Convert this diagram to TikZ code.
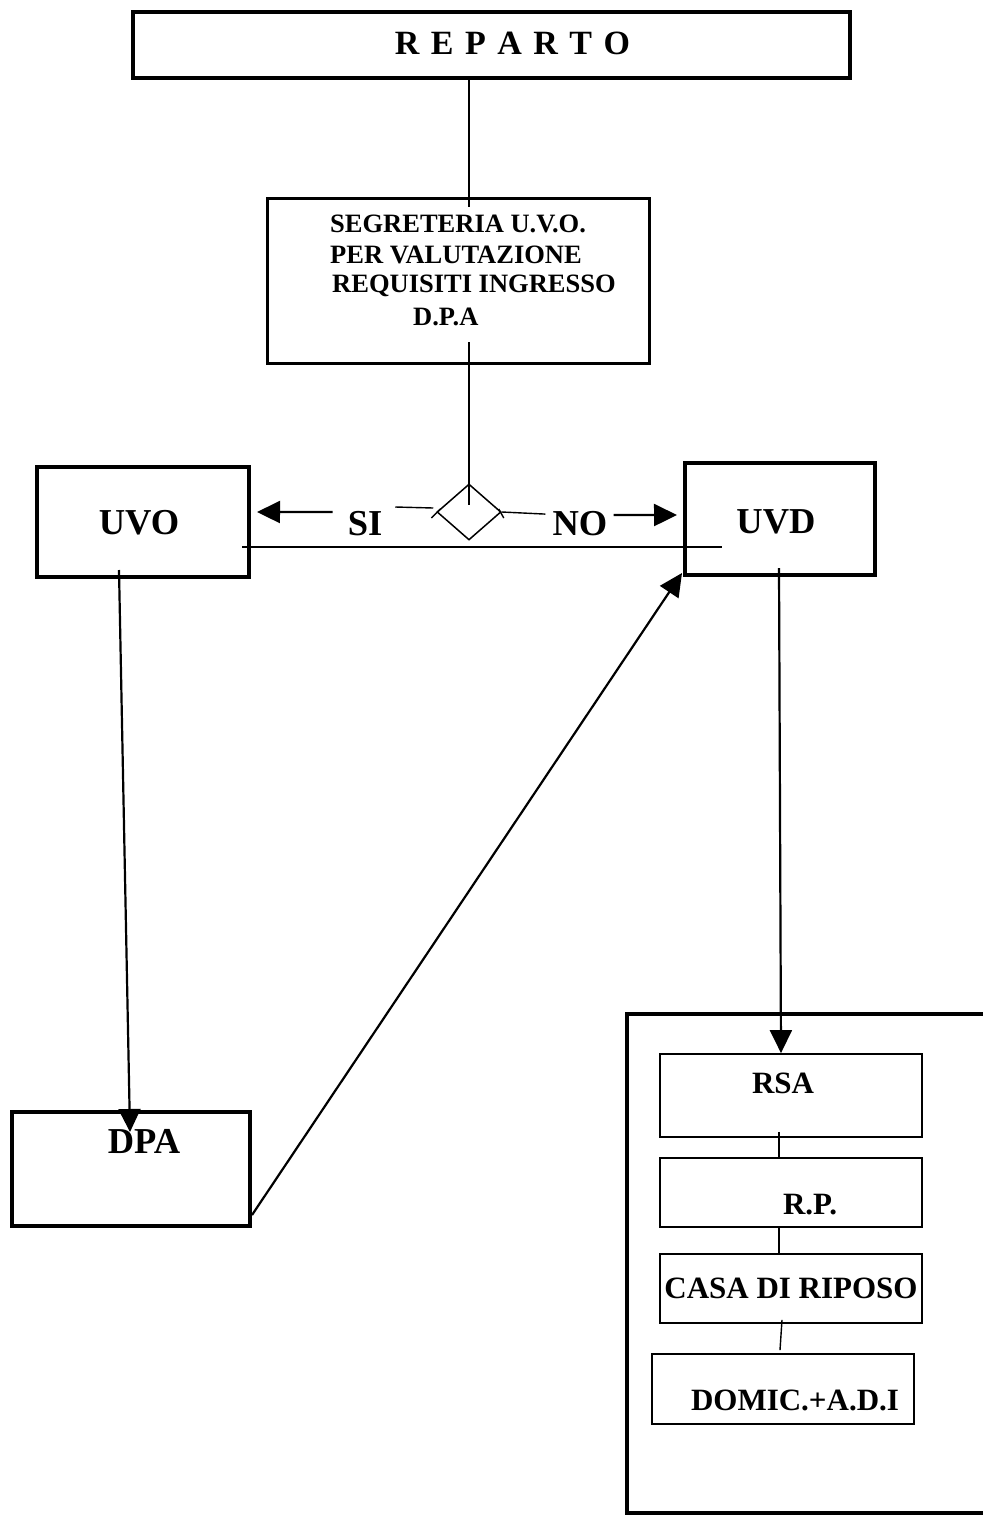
\documentclass[tikz,border=0pt]{standalone}
\usepackage{fontspec}
\setmainfont{Liberation Serif}
\usetikzlibrary{arrows.meta,calc,shapes.geometric}
\begin{document}
\begin{tikzpicture}[x=1pt,y=-1pt,line join=miter,
    >={Triangle[length=23pt,width=22pt]},
    box/.style={draw,line width=4pt,inner sep=0pt},
    thinbox/.style={draw,line width=1.8pt,inner sep=0pt,minimum width=262pt},
    bigtxt/.style={font=\fontsize{36.5}{40}\selectfont\bfseries,anchor=base,inner sep=0pt},
    midtxt/.style={font=\fontsize{31}{36}\selectfont\bfseries,anchor=base,inner sep=0pt},
    smalltxt/.style={font=\fontsize{26.5}{30}\selectfont\bfseries,anchor=base west,inner sep=0pt},
    conn/.style={line width=1.4pt},
    arr/.style={->,line width=2.2pt}]
    \useasboundingbox (0,0) rectangle (982,1517);
    % boxes
    \node[box,minimum width=717pt,minimum height=66pt] (reparto) at (491.5,45) {};
    \node[box,line width=3pt,minimum width=382pt,minimum height=165pt] (segr) at (458.5,281) {};
    \node[diamond,draw,line width=1.5pt,inner sep=0pt,minimum width=64pt,minimum height=56pt] (dia) at (469,512) {};
    \node[box,minimum width=212pt,minimum height=110pt] (uvo) at (143,522) {};
    \node[box,minimum width=190pt,minimum height=112pt] (uvd) at (780,519) {};
    \node[box,minimum width=238pt,minimum height=114pt] (dpa) at (131,1169) {};
    \node[box,minimum width=368pt,minimum height=499pt] (esiti) at (811,1263.5) {};
    \node[thinbox,minimum height=83pt] (rsa) at (791,1095.5) {};
    \node[thinbox,minimum height=69pt] (rp) at (791,1192.5) {};
    \node[thinbox,minimum height=69pt] (casa) at (791,1288.5) {};
    \node[thinbox,minimum height=70pt] (domic) at (783,1389) {};
    % texts
    \node[anchor=base,inner sep=0pt,font=\fontsize{34}{38}\selectfont\bfseries] (reparto-t) at (512.5,55) {\spaceskip=11.5pt R E P A R T O};
    \node[smalltxt] (segr-1) at (330,233) {SEGRETERIA U.V.O.};
    \node[smalltxt] (segr-2) at (330,263) {PER VALUTAZIONE};
    \node[smalltxt] (segr-3) at (332,292) {REQUISITI INGRESSO};
    \node[smalltxt] (segr-4) at (413,325) {D.P.A};
    \node[bigtxt] (uvo-t) at (139,534) {UVO};
    \node[bigtxt] (uvd-t) at (776,533) {UVD};
    \node[bigtxt] (si) at (365,535) {SI};
    \node[bigtxt] (no) at (580,535) {NO};
    \node[bigtxt] (dpa-t) at (144,1153) {DPA};
    \node[midtxt] (rsa-t) at (783,1093) {RSA};
    \node[midtxt] (rp-t) at (810,1214) {R.P.};
    \node[midtxt] (casa-t) at (791,1298) {CASA DI RIPOSO};
    \node[midtxt] (domic-t) at (795,1410) {DOMIC.+A.D.I};
    % connectors
    \draw[conn] (reparto.south -| dia.north) -- ($(segr.north -| dia.north)+(0,10)$);
    \draw[conn] ($(segr.south -| dia.north)+(0,-23)$) -- ($(dia.north)+(0,22)$);
    \draw[conn] ($(dia.west)+(-41,-5)$) -- ($(dia.west)+(-3,-4)$);
    \draw[conn] ($(dia.west)+(-5,6)$) -- ($(dia.west)+(4,-3)$);
    \draw[conn] (dia.east) -- ($(no.west)+(-7,-9)$);
    \draw[conn] ($(dia.east)+(-3,-3)$) -- ($(dia.east)+(2,6)$);
    \draw[arr] ($(si.west)+(-15,-11)$) -- ($(uvo.east)+(6,-10)$);
    \draw[arr] ($(no.east)+(6,-8)$) -- ($(uvd.west)+(-6,-4)$);
    \draw[conn] ($(uvo.east)+(-9,25)$) -- ($(uvd.west)+(39,28)$);
    \draw[arr] ($(uvo.south)+(-24,-9)$) -- ($(dpa.north)+(-1,22)$);
    \draw[arr] ($(dpa.south east)+(0,-13)$) -- ($(uvd.south west)+(-1,-4)$);
    \draw[arr] ($(uvd.south)+(-1,-9)$) -- ($(rsa.north)+(-10,0)$);
    \draw[conn] ($(rsa.south)+(-12,-6)$) -- ($(rp.north)+(-12,0)$);
    \draw[conn] ($(rp.south)+(-12,0)$) -- ($(casa.north)+(-12,0)$);
    \draw[conn] ($(casa.south)+(-9,-4)$) -- ($(domic.north)+(-3,-3)$);
\end{tikzpicture}
\end{document}
